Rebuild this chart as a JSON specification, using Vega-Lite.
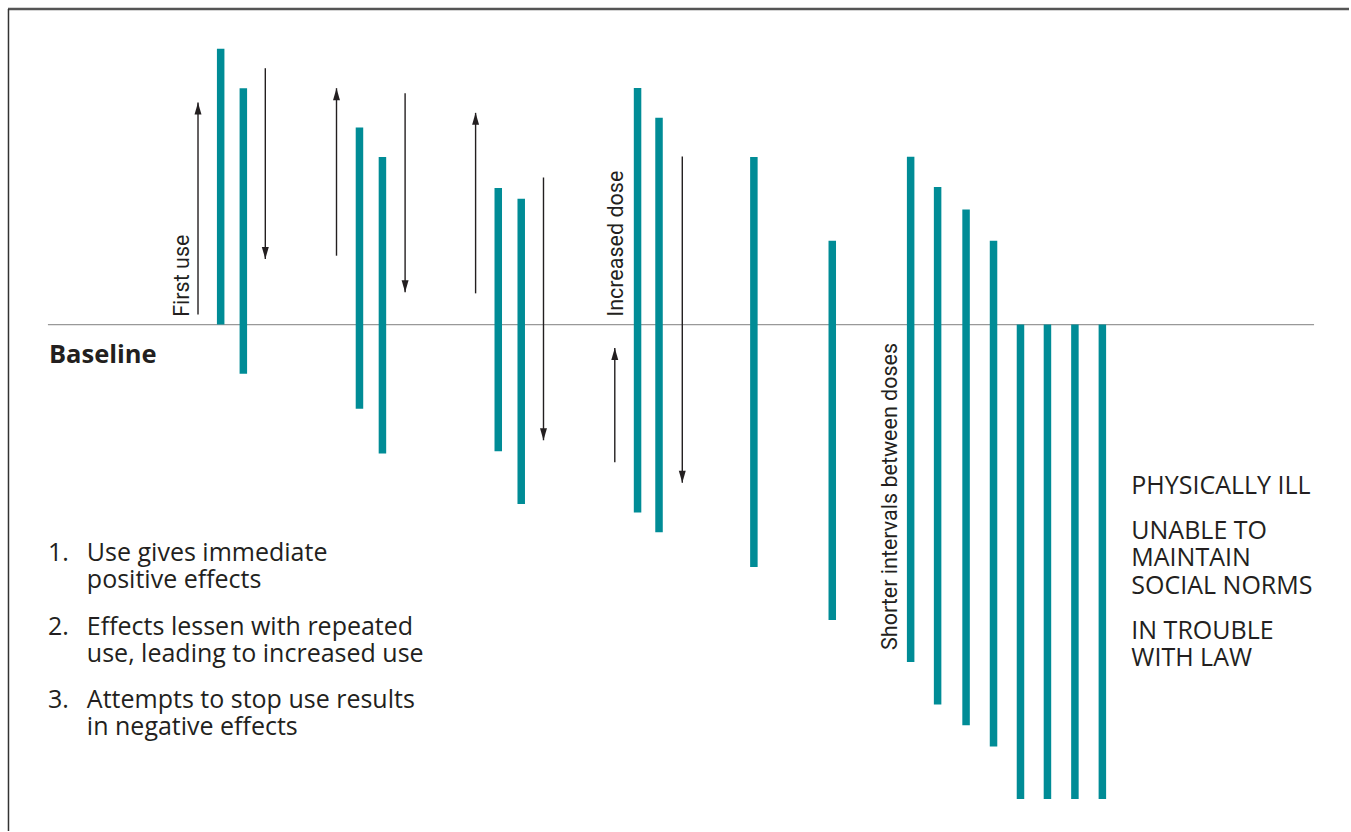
{
  "$schema": "https://vega.github.io/schema/vega-lite/v6.json",
  "width": 1351,
  "height": 832,
  "autosize": {"type": "fit", "contains": "padding"},
  "padding": 0,
  "background": "white",
  "config": {"view": {"stroke": null}},
  "datasets": {
    "bars": [
      {"t": 221, "top": 276.3, "bottom": 0},
      {"t": 243.7, "top": 236.7, "bottom": -49.3},
      {"t": 360, "top": 197.3, "bottom": -84.3},
      {"t": 383, "top": 167.7, "bottom": -129},
      {"t": 499, "top": 136.7, "bottom": -126.7},
      {"t": 522, "top": 126, "bottom": -179.7},
      {"t": 638.5, "top": 237, "bottom": -188},
      {"t": 660, "top": 207, "bottom": -208},
      {"t": 755, "top": 167.7, "bottom": -242.7},
      {"t": 833.5, "top": 84, "bottom": -295.7},
      {"t": 912, "top": 168, "bottom": -337.7},
      {"t": 939, "top": 137.7, "bottom": -380.3},
      {"t": 967.5, "top": 115.3, "bottom": -401},
      {"t": 995, "top": 84, "bottom": -422.3},
      {"t": 1022, "top": 0, "bottom": -475},
      {"t": 1049, "top": 0, "bottom": -475},
      {"t": 1076.5, "top": 0, "bottom": -475},
      {"t": 1104, "top": 0, "bottom": -475}
    ],
    "arrows": [
      {"t": 198.3, "start": 10, "tip": 222.3, "dir": "up"},
      {"t": 265.7, "start": 256.7, "tip": 65.7, "dir": "down"},
      {"t": 337, "start": 69, "tip": 236.7, "dir": "up"},
      {"t": 405.7, "start": 231.7, "tip": 32.3, "dir": "down"},
      {"t": 476.3, "start": 31.3, "tip": 212, "dir": "up"},
      {"t": 544.3, "start": 147.3, "tip": -115.7, "dir": "down"},
      {"t": 615.7, "start": -137.7, "tip": -23.3, "dir": "up"},
      {"t": 683.3, "start": 168.3, "tip": -158.3, "dir": "down"}
    ],
    "rotated": [
      {"t": 189, "level": 49, "label": "First use"},
      {"t": 624, "level": 81, "label": "Increased dose"},
      {"t": 898, "level": -172, "label": "Shorter intervals between doses"}
    ],
    "numbers": [
      {"t": 48, "level": -237, "label": "1."},
      {"t": 48, "level": -311, "label": "2."},
      {"t": 48, "level": -384, "label": "3."}
    ],
    "list": [
      {"t": 87, "level": -237, "label": "Use gives immediate"},
      {"t": 87, "level": -264, "label": "positive effects"},
      {"t": 87, "level": -311, "label": "Effects lessen with repeated"},
      {"t": 87, "level": -338, "label": "use, leading to increased use"},
      {"t": 87, "level": -384, "label": "Attempts to stop use results"},
      {"t": 87, "level": -411, "label": "in negative effects"}
    ],
    "outcomes": [
      {"t": 1133, "level": -170, "label": "PHYSICALLY ILL"},
      {"t": 1133, "level": -215, "label": "UNABLE TO"},
      {"t": 1133, "level": -242, "label": "MAINTAIN"},
      {"t": 1133, "level": -270, "label": "SOCIAL NORMS"},
      {"t": 1133, "level": -315, "label": "IN TROUBLE"},
      {"t": 1133, "level": -342, "label": "WITH LAW"}
    ]
  },
  "encoding": {
    "x": {"field": "t", "type": "quantitative", "scale": {"domain": [0, 1351], "nice": false, "zero": false}, "axis": null}
  },
  "layer": [
    {
      "data": {"values": [{"t": 8, "t2": 1351, "level": 316}]},
      "mark": {"type": "rule", "color": "#555555", "strokeWidth": 2.5},
      "encoding": {
        "x2": {"field": "t2"},
        "y": {"field": "level", "type": "quantitative", "scale": {"domain": [-507, 325], "nice": false, "zero": false}, "axis": null}
      }
    },
    {
      "data": {"values": [{"t": 8.5, "level": 316, "level2": -507}]},
      "mark": {"type": "rule", "color": "#333333", "strokeWidth": 1.5},
      "encoding": {
        "y": {"field": "level", "type": "quantitative", "axis": null},
        "y2": {"field": "level2"}
      }
    },
    {
      "data": {"values": [{"t": 48, "t2": 1316, "level": 0}]},
      "mark": {"type": "rule", "color": "#999999", "strokeWidth": 1.2},
      "encoding": {
        "x2": {"field": "t2"},
        "y": {"field": "level", "type": "quantitative", "axis": null}
      }
    },
    {
      "data": {"name": "bars"},
      "mark": {"type": "rule", "color": "#008C96", "strokeWidth": 7.5, "strokeCap": "butt"},
      "encoding": {
        "y": {"field": "top", "type": "quantitative", "axis": null},
        "y2": {"field": "bottom"}
      }
    },
    {
      "data": {"name": "arrows"},
      "mark": {"type": "rule", "color": "#231f20", "strokeWidth": 1.4},
      "encoding": {
        "y": {"field": "start", "type": "quantitative", "axis": null},
        "y2": {"field": "tip"}
      }
    },
    {
      "data": {"name": "arrows"},
      "mark": {"type": "point", "filled": true, "color": "#231f20", "opacity": 1, "size": 144, "strokeWidth": 0},
      "encoding": {
        "y": {"field": "tip", "type": "quantitative", "axis": null},
        "shape": {"field": "dir", "type": "nominal", "legend": null, "scale": {"domain": ["up", "down"], "range": ["M0,0L-0.58,2L0.58,2Z", "M0,0L-0.58,-2L0.58,-2Z"]}}
      }
    },
    {
      "data": {"name": "rotated"},
      "mark": {"type": "text", "angle": 270, "align": "center", "baseline": "alphabetic", "font": "Roboto", "fontWeight": 400, "fontSize": 21.5, "color": "#231f20"},
      "encoding": {
        "y": {"field": "level", "type": "quantitative", "axis": null},
        "text": {"field": "label"}
      }
    },
    {
      "data": {"values": [{"t": 49, "level": -38.3, "label": "Baseline"}]},
      "mark": {"type": "text", "align": "left", "baseline": "alphabetic", "font": "Open Sans", "fontWeight": "bold", "fontSize": 25.5, "color": "#231f20"},
      "encoding": {
        "y": {"field": "level", "type": "quantitative", "axis": null},
        "text": {"field": "label"}
      }
    },
    {
      "data": {"name": "numbers"},
      "mark": {"type": "text", "align": "left", "baseline": "alphabetic", "font": "Open Sans", "fontSize": 25, "color": "#231f20"},
      "encoding": {
        "y": {"field": "level", "type": "quantitative", "axis": null},
        "text": {"field": "label"}
      }
    },
    {
      "data": {"name": "list"},
      "mark": {"type": "text", "align": "left", "baseline": "alphabetic", "font": "Open Sans", "fontSize": 25, "color": "#231f20"},
      "encoding": {
        "y": {"field": "level", "type": "quantitative", "axis": null},
        "text": {"field": "label"}
      }
    },
    {
      "data": {"name": "outcomes"},
      "mark": {"type": "text", "align": "left", "baseline": "alphabetic", "font": "Open Sans", "fontSize": 25, "color": "#231f20"},
      "encoding": {
        "y": {"field": "level", "type": "quantitative", "axis": null},
        "text": {"field": "label"}
      }
    }
  ]
}
